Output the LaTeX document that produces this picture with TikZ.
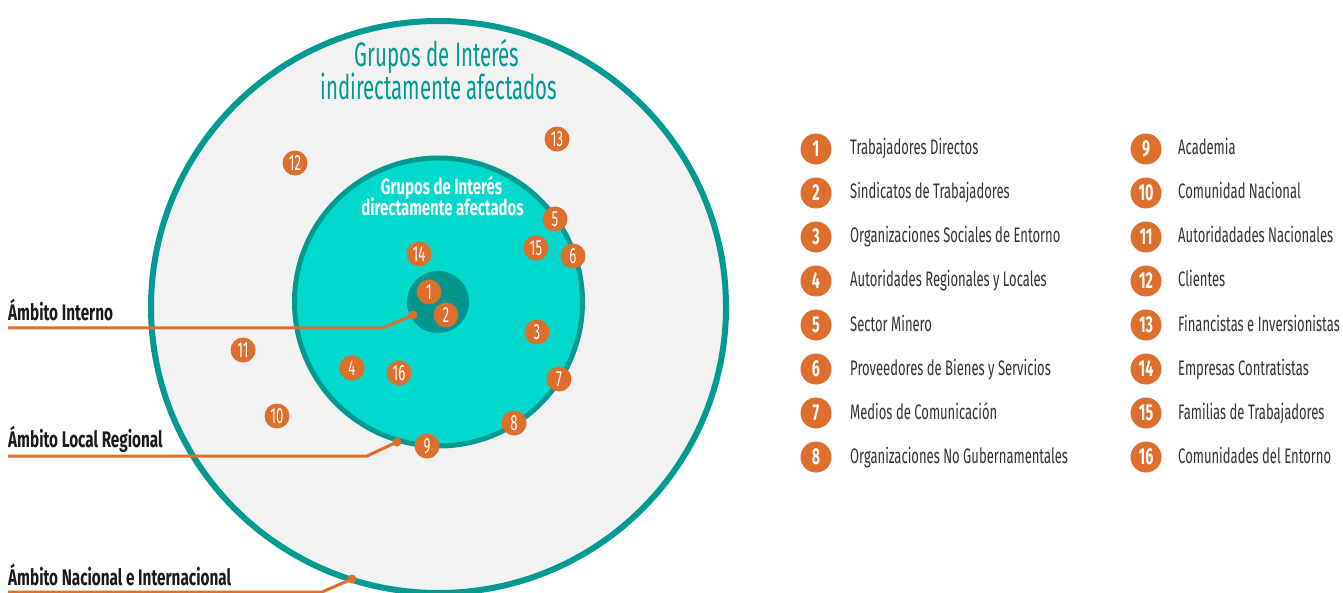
\documentclass[tikz,border=0pt]{standalone}
\usepackage{fontspec}
\setmainfont{Fira Sans}
\newfontfamily\cond{Fira Sans}[FakeStretch=0.6]
\newfontfamily\condl{Fira Sans}[FakeStretch=0.62]
\newfontfamily\condb{Fira Sans}[FakeStretch=0.62]
\newfontfamily\condw{Fira Sans}[FakeStretch=0.68]
\definecolor{teal1}{HTML}{009A93}
\definecolor{cyan1}{HTML}{00D9CC}
\definecolor{dark1}{HTML}{009690}
\definecolor{gray1}{HTML}{F2F2F2}
\definecolor{orng}{HTML}{DE6E2B}
\definecolor{legtext}{HTML}{333333}
\definecolor{labtext}{HTML}{1A1A1A}
\tikzset{
  numdot/.style={circle, fill=orng, minimum size=25pt, inner sep=0pt, text=white, font=\cond\fontsize{22}{22}\selectfont},
  legdot/.style={circle, fill=orng, minimum size=31pt, inner sep=0pt, text=white, font=\condb\bfseries\fontsize{23}{23}\selectfont},
  legtxt/.style={anchor=base west, inner sep=0pt, text=legtext, font=\condl\fontsize{21}{21}\selectfont},
  ambtxt/.style={anchor=base west, inner sep=0pt, text=labtext, font=\condw\bfseries\fontsize{22.5}{22.5}\selectfont},
  pin/.style={circle, fill=orng, minimum size=9pt, inner sep=0pt},
  leader/.style={draw=orng, line width=3pt},
}
\begin{document}
\begin{tikzpicture}[x=1pt,y=-1pt]
\useasboundingbox (0,0) rectangle (1343,593);
\clip (0,0) rectangle (1343,593);
\fill[white] (0,0) rectangle (1343,593);
% rings
\draw[teal1, line width=6pt, fill=gray1] (438.5,307) ellipse [x radius=287.5, y radius=286];
\draw[teal1, line width=5pt, fill=cyan1] (438.5,302) circle [radius=144];
\fill[dark1] (438,302) circle [radius=31];
% titles
\node[anchor=base, inner sep=0pt, text=teal1, font=\cond\fontsize{34}{34}\selectfont] (t1) at (437,67) {Grupos de Interés};
\node[anchor=base, inner sep=0pt, text=teal1, font=\cond\fontsize{34}{34}\selectfont] (t2) at (439,100) {indirectamente afectados};
\node[anchor=base, inner sep=0pt, text=white, font=\condw\bfseries\fontsize{22}{22}\selectfont] (t3) at (441.5,195) {Grupos de Interés};
\node[anchor=base, inner sep=0pt, text=white, font=\condw\bfseries\fontsize{22}{22}\selectfont] (t4) at (442.5,216) {directamente afectados};
% numbered dots
\node[numdot] (n1) at (429,292) {1};
\node[numdot] (n2) at (446,315) {2};
\node[numdot] (n3) at (537,332) {3};
\node[numdot] (n4) at (352,368) {4};
\node[numdot] (n5) at (555,219) {5};
\node[numdot] (n6) at (573,256) {6};
\node[numdot] (n7) at (559,379) {7};
\node[numdot] (n8) at (514,423) {8};
\node[numdot] (n9) at (427,446) {9};
\node[numdot] (n10) at (277,416) {10};
\node[numdot] (n11) at (243,350) {11};
\node[numdot] (n12) at (295,163) {12};
\node[numdot] (n13) at (557,139) {13};
\node[numdot] (n14) at (419,254) {14};
\node[numdot] (n15) at (536,248) {15};
\node[numdot] (n16) at (399,373) {16};
% leader lines
\node[ambtxt] (a1) at (8,321) {Ámbito Interno};
\node[ambtxt] (a2) at (8,447) {Ámbito Local Regional};
\node[ambtxt] (a3) at (8,585) {Ámbito Nacional e Internacional};
\coordinate (a1s) at (8,328);
\coordinate (a1k) at (383,328);
\node[pin] (p1) at (413,315) {};
\coordinate (a2s) at (8,456);
\coordinate (a2k) at (367,456);
\node[pin] (p2) at (397,442) {};
\coordinate (a3s) at (8,592);
\coordinate (a3k) at (322,592);
\node[pin] (p3) at (352,579) {};
\draw[leader] (a1s) -- (a1k) -- (p1.center);
\draw[leader] (a2s) -- (a2k) -- (p2.center);
\draw[leader] (a3s) -- (a3k) -- (p3.center);
% legend
\foreach \i/\y/\txt in {1/149/Trabajadores Directos, 2/193/Sindicatos de Trabajadores, 3/237/Organizaciones Sociales de Entorno, 4/281/Autoridades Regionales y Locales, 5/325/Sector Minero, 6/369/Proveedores de Bienes y Servicios, 7/413/Medios de Comunicación, 8/457/Organizaciones No Gubernamentales}{
  \node[legdot] (l\i) at (816,\y) {\i};
  \node[legtxt] (lt\i) at (850,\y+6) {\txt};
}
\foreach \i/\y/\txt in {9/149/Academia, 10/193/Comunidad Nacional, 11/237/Autoridadades Nacionales, 12/281/Clientes, 13/325/Financistas e Inversionistas, 14/369/Empresas Contratistas, 15/413/Familias de Trabajadores, 16/457/Comunidades del Entorno}{
  \node[legdot] (l\i) at (1146,\y) {\i};
  \node[legtxt] (lt\i) at (1178,\y+6) {\txt};
}
\end{tikzpicture}
\end{document}
